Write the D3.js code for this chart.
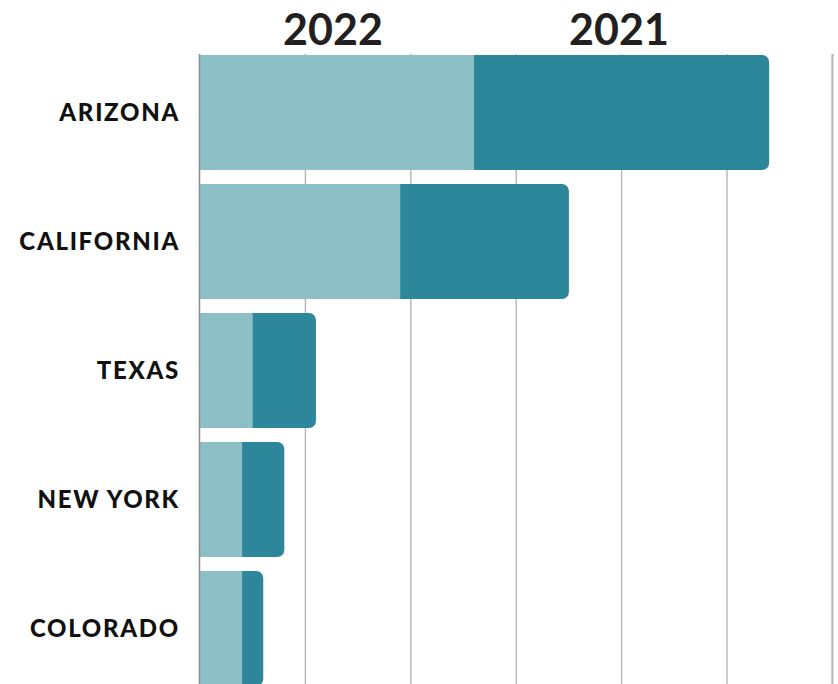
<!DOCTYPE html>
<html>
<head>
<meta charset="utf-8">
<script src="https://cdn.jsdelivr.net/npm/d3@7"></script>
<style>
  html, body { margin: 0; padding: 0; background: #fff; }
  svg { display: block; }
</style>
</head>
<body>
<svg id="chart" width="838" height="684"></svg>
<script>
const states = ["ARIZONA", "CALIFORNIA", "TEXAS", "NEW YORK", "COLORADO"];
const series = ["2022", "2021"];
const values2022 = [26, 19, 5, 4, 4];
const values2021 = [28, 16, 6, 4, 2];
const gridTicks = [0, 10, 20, 30, 40, 50, 60];

const colors = { "2022": "#8cc0c6", "2021": "#2b8799" };

const svg = d3.select("#chart");
const W = 838, H = 684;

const x = d3.scaleLinear().domain([0, 60]).range([200, 832.4]);
const y = d3.scaleBand().domain(states).range([55, 686]).paddingInner(14 / 129).paddingOuter(0);

// gridlines
svg.append("g").selectAll("line")
  .data(gridTicks.slice(1))
  .join("line")
  .attr("x1", d => x(d)).attr("x2", d => x(d))
  .attr("y1", 54).attr("y2", H)
  .attr("stroke", d => d === 60 ? "#b3b3b3" : "#b5b5b5")
  .attr("stroke-width", d => d === 60 ? 2 : 1.4);

const rows = states.map((s, i) => ({ state: s, v2022: values2022[i], v2021: values2021[i] }));

// bars
const r = 7;
const g = svg.append("g");
rows.forEach(d => {
  const y0 = y(d.state), h = y.bandwidth();
  const xa = x(0), xb = x(d.v2022), xc = x(d.v2022 + d.v2021);
  const path = d3.path();
  path.moveTo(xb - 1, y0);
  path.lineTo(xc - r, y0);
  path.arcTo(xc, y0, xc, y0 + r, r);
  path.lineTo(xc, y0 + h - r);
  path.arcTo(xc, y0 + h, xc - r, y0 + h, r);
  path.lineTo(xb - 1, y0 + h);
  path.closePath();
  g.append("path").attr("d", path.toString()).attr("fill", colors["2021"]);
  g.append("rect")
    .attr("x", xa).attr("y", y0)
    .attr("width", xb - xa).attr("height", h)
    .attr("fill", colors["2022"]);
});

// axis line
svg.append("line")
  .attr("x1", 199.5).attr("x2", 199.5)
  .attr("y1", 54).attr("y2", H)
  .attr("stroke", "#8a8a8a").attr("stroke-width", 1.5);

// category labels
svg.append("g").selectAll("text")
  .data(states)
  .join("text")
  .attr("x", 180)
  .attr("y", d => y(d) + y.bandwidth() / 2)
  .attr("dy", "0.36em")
  .attr("text-anchor", "end")
  .attr("font-family", "Lato, sans-serif")
  .attr("font-weight", 900)
  .attr("font-size", 24)
  .attr("letter-spacing", 1.7)
  .attr("fill", "#111")
  .text(d => d);

// series headers
const headerX = { "2022": 333, "2021": 619 };
svg.append("g").selectAll("text")
  .data(series)
  .join("text")
  .attr("x", d => headerX[d])
  .attr("y", 45)
  .attr("text-anchor", "middle")
  .attr("font-family", "Lato, sans-serif")
  .attr("font-weight", 700)
  .attr("font-size", 43)
  .attr("fill", "#231f20")
  .text(d => d);
</script>
</body>
</html>
